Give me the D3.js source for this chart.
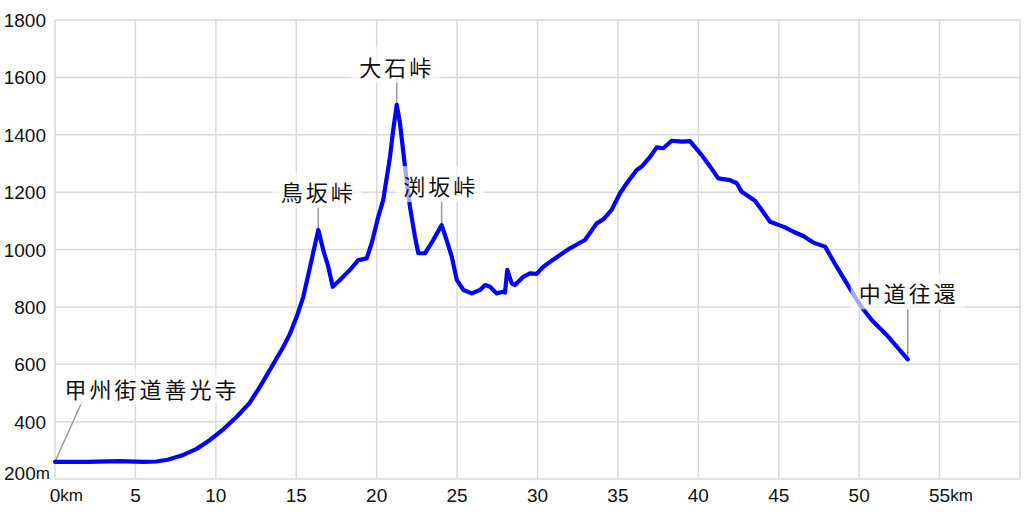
<!DOCTYPE html>
<html><head><meta charset="utf-8">
<script src="https://cdn.jsdelivr.net/npm/d3@7"></script>
<style>body{margin:0;background:#fff}svg{display:block}</style>
</head><body><svg id="c" width="1024" height="512"></svg>
<script>
const distanceKm = [0,2.0,4.0,5.5,6.3,7.0,7.98,8.8,9.64,10.5,11.30,12.1,12.75,13.47,14.20,14.6,15.03,15.44,15.86,16.37,16.68,16.99,17.27,17.72,18.34,18.86,19.38,19.69,20.10,20.41,20.83,21.03,21.25,21.45,21.76,22.07,22.38,22.59,23.01,23.52,24.04,24.35,24.67,24.98,25.39,25.91,26.43,26.74,27.05,27.46,27.87,27.98,28.12,28.40,28.60,29.12,29.53,29.95,30.36,30.78,31.40,32.02,32.95,33.68,34.09,34.61,35.13,35.55,36.17,36.48,37.00,37.41,37.82,38.34,38.97,39.48,40.21,40.73,41.24,41.97,42.39,42.70,43.52,43.94,44.46,45.39,45.91,46.53,47.15,47.88,48.60,49.23,50.05,50.78,51.71,53.02];
const elevationM = [260,260,262,260,261,267,284,305,336,375,417,465,522,591,661,705,766,835,940,1068,998,940,870,894,929,963,969,1022,1114,1173,1323,1417,1504,1440,1289,1149,1045,987,987,1033,1085,1033,975,894,859,847,859,876,870,847,853,850,929,882,876,905,917,915,940,957,981,1004,1033,1091,1105,1138,1196,1231,1277,1289,1323,1356,1353,1379,1376,1378,1329,1289,1248,1242,1231,1201,1170,1138,1097,1077,1062,1047,1024,1010,940,882,807,754,702,617];
const xTickValues = [0,5,10,15,20,25,30,35,40,45,50,55];
const yTickValues = [200,400,600,800,1000,1200,1400,1600,1800];
const landmarkNames = ["甲州街道善光寺","鳥坂峠","大石峠","渕坂峠","中道往還"];
const landmarkIndex = [0,19,32,40,95];

// layout (pixel offsets relative to the landmark point)
const labelLayout = [
  {dx:97, dy:-74, lx:27, ly:-60},
  {dx:0, dy:-39, lx:0, ly:-25},
  {dx:0, dy:-39, lx:0, ly:-27},
  {dx:-1, dy:-40, lx:0, ly:-25},
  {dx:1, dy:-67, lx:0, ly:-51}
];

const svg = d3.select("#c");
const L=55, R=1020, T=20, B=479;
const x = d3.scaleLinear().domain([0,60]).range([L,R]);
const y = d3.scaleLinear().domain([200,1800]).range([B,T]);

// grid
const grid = svg.append("g").attr("stroke","#d9d9d9").attr("stroke-width",1.5);
grid.selectAll(".v").data(xTickValues.concat([60])).join("line")
  .attr("x1",d=>x(d)).attr("x2",d=>x(d)).attr("y1",T).attr("y2",B);
grid.selectAll(".h").data(yTickValues).join("line")
  .attr("x1",L).attr("x2",R).attr("y1",d=>y(d)).attr("y2",d=>y(d));

const fontTick = "'Liberation Sans', Arial, sans-serif";
// y labels
svg.append("g").selectAll("text").data(yTickValues).join("text")
  .attr("x",d=> d===200 ? 4 : 46).attr("y",d=> d===200 ? B-6 : y(d))
  .attr("text-anchor",d=> d===200 ? "start" : "end").attr("dominant-baseline","central")
  .attr("font-family",fontTick).attr("font-size",19).attr("fill","#111")
  .each(function(d){
    const t = d3.select(this);
    t.append("tspan").text(d);
    if (d===200) t.append("tspan").attr("font-size",17).text("m");
  });

// x labels
const xl = svg.append("g");
xTickValues.forEach((d,i)=>{
  const t = xl.append("text").attr("y",495).attr("dominant-baseline","central")
    .attr("font-family",fontTick).attr("font-size",19).attr("fill","#111");
  t.append("tspan").text(String(d));
  const w = t.node().getComputedTextLength();
  t.attr("x", x(d)-w/2);
  if (i===0 || i===xTickValues.length-1) t.append("tspan").attr("font-size",17).text("km");
});

// leaders
const pts = landmarkIndex.map(i=>({px:x(distanceKm[i]), py:y(elevationM[i])}));
svg.append("g").selectAll("line").data(pts).join("line")
  .attr("x1",d=>d.px).attr("y1",d=>d.py)
  .attr("x2",(d,i)=>d.px+labelLayout[i].lx).attr("y2",(d,i)=>d.py+labelLayout[i].ly)
  .attr("stroke","#999").attr("stroke-width",1.5);

// profile line
const line = d3.line().x((d,i)=>x(distanceKm[i])).y(d=>y(d));
svg.append("path").datum(elevationM).attr("d",line)
  .attr("fill","none").attr("stroke","#0000ff").attr("stroke-width",4.2)
  .attr("stroke-linejoin","round").attr("stroke-linecap","round");

// labels
landmarkNames.forEach((name,i)=>{
  const g = svg.append("g");
  const r = g.append("rect").attr("fill","#fff").attr("fill-opacity",0.65);
  const t = g.append("text")
    .attr("x",pts[i].px+labelLayout[i].dx).attr("y",pts[i].py+labelLayout[i].dy)
    .attr("text-anchor","middle").attr("dominant-baseline","central")
    .attr("font-family","'Noto Sans CJK JP', sans-serif").attr("font-size",22)
    .attr("letter-spacing","3px").attr("fill","#111").text(name);
  const bb = t.node().getBBox();
  r.attr("x",bb.x-8).attr("y",bb.y-3).attr("width",bb.width+14).attr("height",bb.height+4);
});
</script></body></html>
